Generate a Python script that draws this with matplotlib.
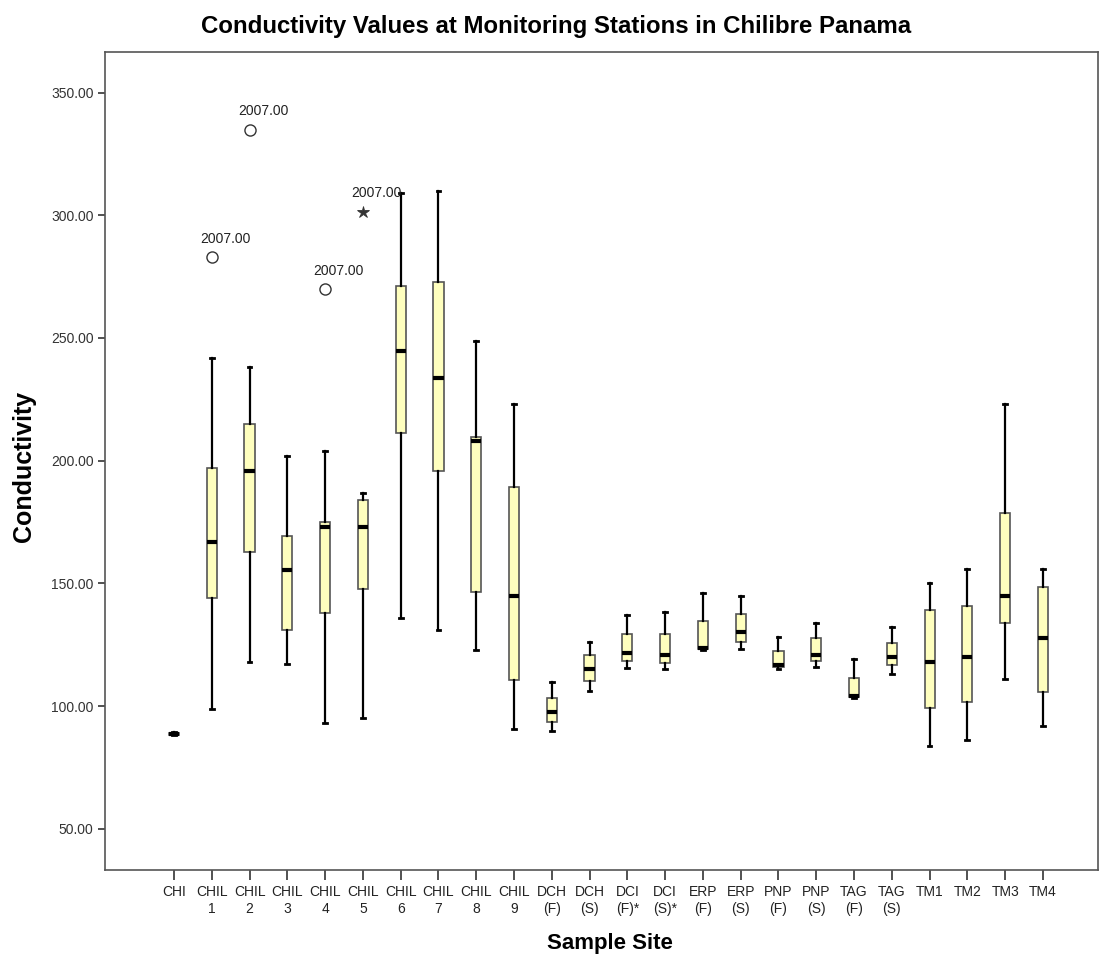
import matplotlib
matplotlib.use("Agg")
import matplotlib.pyplot as plt
from matplotlib import font_manager

# ---------------- data ----------------
sites = ["CHI", "CHIL\n1", "CHIL\n2", "CHIL\n3", "CHIL\n4", "CHIL\n5", "CHIL\n6",
         "CHIL\n7", "CHIL\n8", "CHIL\n9", "DCH\n(F)", "DCH\n(S)", "DCI\n(F)*",
         "DCI\n(S)*", "ERP\n(F)", "ERP\n(S)", "PNP\n(F)", "PNP\n(S)", "TAG\n(F)",
         "TAG\n(S)", "TM1", "TM2", "TM3", "TM4"]
whisker_low = [88.0, 98.9, 117.9, 117.0, 93.0, 95.0, 136.0, 130.8, 122.7, 90.6,
               89.7, 106.0, 115.4, 115.0, 123.0, 123.1, 115.0, 116.0, 103.3,
               113.0, 83.8, 86.1, 111.0, 92.0]
q1 = [88.3, 143.9, 162.8, 131.0, 137.8, 147.8, 211.1, 195.8, 146.4, 110.5,
      93.6, 110.3, 118.5, 117.6, 123.2, 126.2, 116.0, 118.5, 103.6,
      116.6, 99.1, 101.8, 133.9, 105.8]
median = [88.6, 166.8, 195.9, 155.4, 173.1, 172.8, 244.8, 233.6, 208.1, 144.8,
          97.5, 115.1, 121.7, 120.8, 123.6, 130.0, 116.8, 120.8, 104.1,
          120.1, 117.9, 120.1, 144.9, 127.8]
q3 = [89.0, 196.9, 214.9, 169.3, 175.0, 183.9, 271.0, 272.7, 209.7, 189.4,
      103.1, 120.7, 129.5, 129.5, 134.8, 137.4, 122.4, 127.8, 111.5,
      125.8, 139.1, 140.9, 178.8, 148.6]
whisker_high = [89.5, 242.0, 238.0, 201.9, 203.9, 186.9, 309.0, 309.8, 248.7, 223.0,
                109.7, 126.1, 137.2, 138.4, 145.9, 144.9, 128.1, 133.9, 119.0,
                132.1, 150.0, 155.8, 222.9, 155.8]

outlier_site = [1, 2, 4, 5]
outlier_value = [282.8, 334.7, 269.8, 301.4]
outlier_marker = ["o", "o", "o", "*"]
outlier_label = ["2007.00", "2007.00", "2007.00", "2007.00"]

title = "Conductivity Values at Monitoring Stations in Chilibre Panama"
ylabel = "Conductivity"
xlabel = "Sample Site"
yticks = [50, 100, 150, 200, 250, 300, 350]

# ---------------- fonts ----------------
available = {f.name for f in font_manager.fontManager.ttflist}
main_font = "Liberation Sans" if "Liberation Sans" in available else "DejaVu Sans"
narrow_font = "Liberation Sans Narrow" if "Liberation Sans Narrow" in available else main_font
plt.rcParams["font.family"] = [main_font, "DejaVu Sans"]

# ---------------- figure ----------------
fig = plt.figure(figsize=(10.99, 9.56), dpi=100)
ax = fig.add_axes([0.0958, 0.0900, 0.9032, 0.8553])

positions = list(range(1, len(sites) + 1))
stats = []
for i in range(len(sites)):
    stats.append({
        "whislo": whisker_low[i], "q1": q1[i], "med": median[i],
        "q3": q3[i], "whishi": whisker_high[i], "fliers": [], "label": sites[i],
    })

ax.bxp(stats, positions=positions, widths=0.27, showfliers=False,
       patch_artist=True, capwidths=0.1,
       boxprops=dict(facecolor="#FFFFBE", edgecolor="#555555", linewidth=1.2),
       medianprops=dict(color="black", linewidth=3.0, solid_capstyle="butt"),
       whiskerprops=dict(color="black", linewidth=1.6),
       capprops=dict(color="black", linewidth=2.0))

for s, v, m, lab in zip(outlier_site, outlier_value, outlier_marker, outlier_label):
    x = positions[s]
    if m == "*":
        ax.plot(x, v, marker=m, markersize=9, markerfacecolor="#333333",
                markeredgecolor="#333333", markeredgewidth=0.6, linestyle="none")
    else:
        ax.plot(x, v, marker=m, markersize=8, markerfacecolor="none",
                markeredgecolor="#333333", markeredgewidth=1.0, linestyle="none")
    ax.annotate(lab, (x, v), xytext=(-8.5, 13.5), textcoords="offset points",
                ha="left", va="center", fontsize=10, color="#222222")

ax.set_xlim(-0.82, 25.455)
ax.set_ylim(33.2, 366.4)
ax.set_xticks(positions)
ax.set_xticklabels(sites, family=[narrow_font, "DejaVu Sans"], fontsize=10,
                   linespacing=1.25, color="#222222")
ax.set_yticks(yticks)
ax.set_yticklabels([f"{t:.2f}" for t in yticks], fontsize=10, color="#333333")
ax.tick_params(axis="both", direction="out", length=5, width=1.2, color="#333333")
ax.tick_params(axis="x", length=7, pad=4)
for sp in ax.spines.values():
    sp.set_color("#555555")
    sp.set_linewidth(1.2)

fig.text(0.555, 0.0135, xlabel, fontsize=16, fontweight="bold", ha="center", va="center")
fig.text(0.022, 0.512, ylabel, fontsize=18, fontweight="bold", ha="center",
         va="center", rotation=90)
fig.text(0.506, 0.972, title, fontsize=17.3, fontweight="bold", ha="center", va="center")

fig.savefig("out.png", dpi=100)
